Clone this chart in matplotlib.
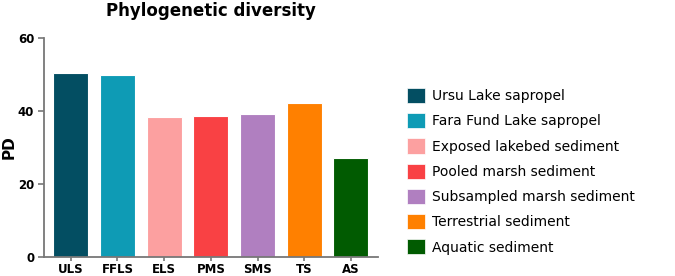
import matplotlib
matplotlib.use("Agg")
import matplotlib.pyplot as plt
from matplotlib.patches import Patch

categories = ["ULS", "FFLS", "ELS", "PMS", "SMS", "TS", "AS"]
pd_values = [50.4, 49.9, 38.4, 38.7, 39.2, 42.3, 27.2]
legend_labels = [
    "Ursu Lake sapropel",
    "Fara Fund Lake sapropel",
    "Exposed lakebed sediment",
    "Pooled marsh sediment",
    "Subsampled marsh sediment",
    "Terrestrial sediment",
    "Aquatic sediment",
]
colors = ["#034e62", "#0e9bb5", "#fca0a0", "#f94144", "#b07fc0", "#ff8000", "#015b01"]
y_ticks = [0, 20, 40, 60]

fig = plt.figure(figsize=(6.75, 2.76), dpi=100)
ax = fig.add_axes([44 / 675, 1 - 257 / 276, (378 - 44) / 675, (257 - 38) / 276])

x = range(len(categories))
ax.bar(x, pd_values, width=0.75, color=colors, edgecolor="white", linewidth=0.8)

ax.set_xlim(-0.574, 6.58)
ax.set_ylim(0, 60)
ax.set_yticks(y_ticks)
ax.set_xticks(list(x))
ax.set_xticklabels(categories, fontsize=8.5, fontweight="bold")
ax.set_yticklabels([str(t) for t in y_ticks], fontsize=8.5, fontweight="bold")
ax.tick_params(axis="y", length=4, width=1.2, color="#777777", pad=3)
ax.tick_params(axis="x", length=3, width=1.2, color="#777777", pad=1.5)

for side in ("top", "right"):
    ax.spines[side].set_visible(False)
for side in ("left", "bottom"):
    ax.spines[side].set_color("#777777")
    ax.spines[side].set_linewidth(1.3)

ax.set_ylabel("PD", fontsize=11, fontweight="bold", va="center")
ax.yaxis.set_label_coords(-0.104, 0.5)
fig.text(211 / 675, 1 - 11 / 276, "Phylogenetic diversity", ha="center", va="center",
         fontsize=12, fontweight="bold")

handles = [Patch(facecolor=c, edgecolor="white", linewidth=0.5) for c in colors]
fig.legend(handles, legend_labels, loc="upper left", bbox_to_anchor=(407 / 675, 1 - 88 / 276),
           frameon=False, fontsize=10, handlelength=1.3, handleheight=1.3,
           handletextpad=0.5, labelspacing=0.72, borderaxespad=0, borderpad=0)

fig.savefig("out.png", dpi=100)
